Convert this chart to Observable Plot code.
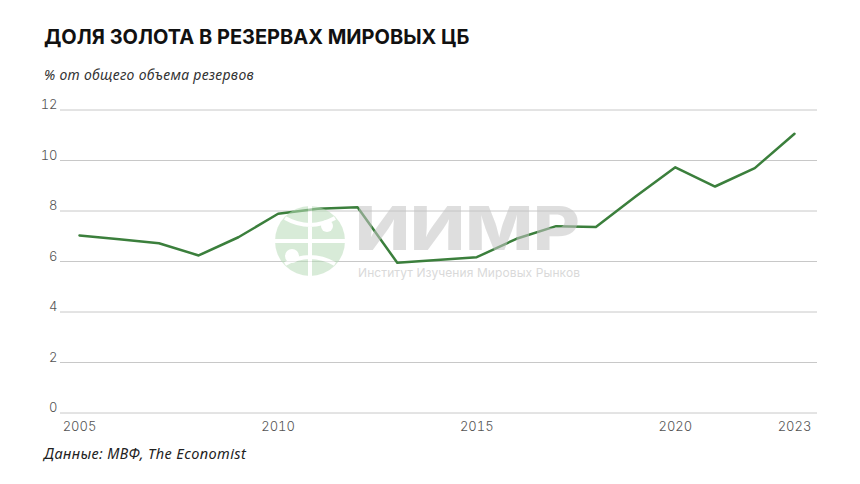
<!DOCTYPE html>
<html>
<head>
<meta charset="utf-8">
<script src="https://cdn.jsdelivr.net/npm/d3@7"></script>
<script src="https://cdn.jsdelivr.net/npm/@observablehq/plot@0.6"></script>
<style>
  html, body { margin: 0; padding: 0; background: #fff; }
  #wrap { position: relative; width: 860px; height: 484px; overflow: hidden; font-family: "Inter", "Noto Sans", sans-serif; }
  #title { position: absolute; left: 44px; top: 25px; font-size: 20px; font-weight: 700; color: #111; letter-spacing: 0px; white-space: nowrap; }
  #subtitle { position: absolute; left: 44px; top: 65px; font-family: "Noto Sans", sans-serif; font-style: italic; font-size: 14px; letter-spacing: 0.3px; color: #333; white-space: nowrap; }
  #caption { position: absolute; left: 44px; top: 443px; font-family: "Noto Sans", sans-serif; font-style: italic; font-size: 14.5px; letter-spacing: 0.4px; color: #222; white-space: nowrap; }
  #chart { position: absolute; left: 0; top: 90px; }
  #wm { position: absolute; left: 0; top: 0; width: 860px; height: 484px; pointer-events: none; }
</style>
</head>
<body>
<div id="wrap">
  <div id="title">ДОЛЯ ЗОЛОТА В РЕЗЕРВАХ МИРОВЫХ ЦБ</div>
  <div id="subtitle">% от общего объема резервов</div>
  <div id="chart"></div>
  <div id="caption">Данные: МВФ, The Economist</div>
</div>
<script>
const years = [2005, 2006, 2007, 2008, 2009, 2010, 2011, 2012, 2013, 2014, 2015, 2016, 2017, 2018, 2019, 2020, 2021, 2022, 2023];
const goldShare = [7.03, 6.88, 6.72, 6.24, 6.96, 7.89, 8.09, 8.15, 5.95, 6.06, 6.17, 6.90, 7.40, 7.37, 8.57, 9.73, 8.97, 9.70, 11.06];
const xTicks = [2005, 2010, 2015, 2020, 2023];
const yTicks = [0, 2, 4, 6, 8, 10, 12];
const watermarkMain = "ИИМР";
const watermarkSub = "Институт Изучения Мировых Рынков";

const data = years.map((y, i) => ({year: y, value: goldShare[i]}));

const chart = Plot.plot({
  width: 860,
  height: 350,
  marginLeft: 60,
  marginRight: 43,
  marginTop: 19.5,
  marginBottom: 27.5,
  style: {fontFamily: "Inter, 'Noto Sans', sans-serif", fontSize: "13px", color: "#444", background: "transparent"},
  x: {domain: [2005 - 19 / 39.72, 2023 + 23 / 39.72], ticks: xTicks, tickFormat: d => String(d), tickSize: 0, tickPadding: 10, label: null},
  y: {domain: [0, 12], ticks: yTicks, tickSize: 0, tickPadding: 3, label: null},
  marks: [
    Plot.gridY(yTicks, {stroke: "#c8c8c8", strokeOpacity: 1, strokeWidth: 1}),
    Plot.axisY(yTicks, {tickSize: 0, tickPadding: 3, dy: -5, fill: "#555", fontWeight: 300, label: null}),
    Plot.axisX(xTicks, {tickSize: 0, tickPadding: 9, fill: "#555", fontWeight: 300, tickFormat: d => String(d), label: null}),
    Plot.line(data, {x: "year", y: "value", stroke: "#3b7f3c", strokeWidth: 2.5, strokeLinejoin: "round"})
  ]
});
document.getElementById("chart").appendChild(chart);

// watermark overlay
const ns = "http://www.w3.org/2000/svg";
const wm = document.createElementNS(ns, "svg");
wm.setAttribute("id", "wm");
wm.setAttribute("width", 860);
wm.setAttribute("height", 484);
wm.innerHTML = `
  <g opacity="0.55">
    <circle cx="310" cy="241" r="35" fill="#b9dcb9"/>
    <path d="M275,241 H345 M310,206 V276 M285,218 Q310,232 335,218 M285,264 Q310,250 335,264" stroke="#fff" stroke-width="4" fill="none"/>
    <circle cx="327" cy="226" r="6" fill="#fff"/>
    <circle cx="292" cy="256" r="7" fill="#fff"/>
    <text x="355" y="250" font-family="Inter, sans-serif" font-weight="800" font-size="60" fill="#c4c4c4" textLength="225" lengthAdjust="spacingAndGlyphs">${watermarkMain}</text>
    <text x="358" y="277" font-family="Inter, sans-serif" font-size="12" fill="#bbbbbb" textLength="222" lengthAdjust="spacing">${watermarkSub}</text>
  </g>`;
document.getElementById("wrap").appendChild(wm);
</script>
</body>
</html>
